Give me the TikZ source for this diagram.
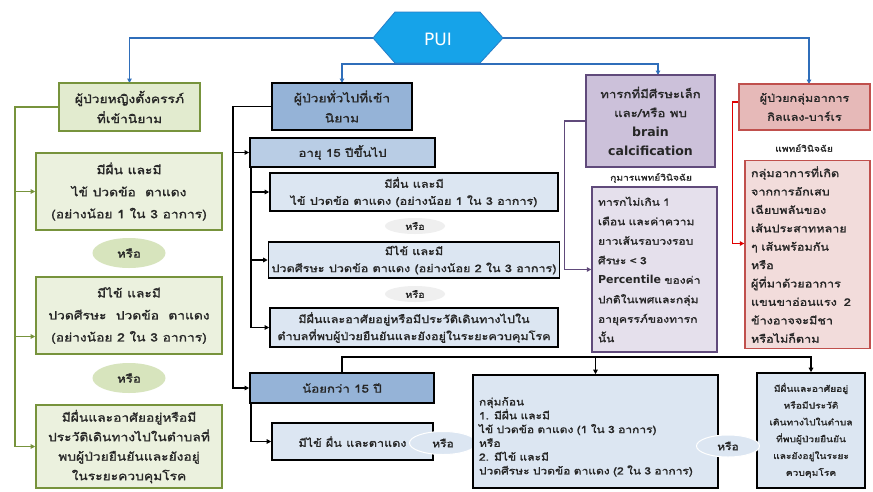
\documentclass[tikz,border=0pt]{standalone}
\usepackage{fontspec}
\setmainfont[Script=Thai,FakeStretch=1.2,AutoFakeBold=1.5]{Loma}
\newfontfamily\lat{DejaVu Sans}
\usetikzlibrary{arrows.meta,calc,shapes.geometric}
\definecolor{txt}{HTML}{262626}
\definecolor{puifill}{HTML}{16A3E9}
\definecolor{puiline}{HTML}{2F6EBA}
\definecolor{gbord}{HTML}{77933C}
\definecolor{gfillA}{HTML}{E2EBCF}
\definecolor{gfillB}{HTML}{EBF1DE}
\definecolor{gell}{HTML}{D7E4BD}
\definecolor{bfillA}{HTML}{95B3D7}
\definecolor{bfillB}{HTML}{B9CDE5}
\definecolor{bfillC}{HTML}{DCE6F2}
\definecolor{greyell}{HTML}{EFEFEF}
\definecolor{pbord}{HTML}{604A7B}
\definecolor{pfillA}{HTML}{CCC1DA}
\definecolor{pfillB}{HTML}{E5E0EC}
\definecolor{rbord}{HTML}{C0504D}
\definecolor{rfillA}{HTML}{E6B9B8}
\definecolor{rfillB}{HTML}{F2DCDB}
\definecolor{redline}{HTML}{E00000}
\tikzset{
  box/.style={draw, rectangle, align=center, inner sep=3pt, text=txt},
  gbox/.style={box, draw=gbord, line width=1.6pt, fill=gfillB, font=\bfseries\fontsize{11.5}{22}\selectfont},
  bbox/.style={box, draw=black, line width=1.8pt, font=\bfseries\fontsize{11.5}{20}\selectfont},
  sbox/.style={box, draw=black, line width=1.6pt, fill=bfillC, font=\bfseries\fontsize{10.5}{17}\selectfont},
  pbox/.style={box, draw=pbord, line width=1.4pt, font=\bfseries\fontsize{11}{19}\selectfont},
  rbox/.style={box, draw=rbord, line width=1.4pt, font=\bfseries\fontsize{10.5}{19}\selectfont},
  orell/.style={ellipse, inner sep=0pt, text=txt, font=\bfseries\fontsize{11}{12}\selectfont},
  lbl/.style={inner sep=1pt, text=txt, font=\bfseries\fontsize{8.5}{10}\selectfont},
  tip/.style={-{Triangle[length=4.5pt,width=4.5pt]}},
  bline/.style={draw=puiline, line width=1.4pt, tip},
  gline/.style={draw=gbord, line width=1.5pt},
  kline/.style={draw=black, line width=1.6pt},
  pline/.style={draw=pbord, line width=1.5pt},
  rline/.style={draw=redline, line width=1.5pt},
}
\begin{document}
\begin{tikzpicture}[x=1pt,y=-1pt]
\useasboundingbox (0,0) rectangle (873,491);
\fill[white] (0,0) rectangle (873,491);

% ---- PUI hexagon ----
\coordinate (puiL) at (373,38);
\coordinate (puiR) at (503,38);
\coordinate (puiS) at (438,63);
\draw[bline] (puiL) -| (129.5,83);
\draw[bline] (puiR) -| (809,84);
\draw[bline] (puiS) -- (438,64) -| (342,83);
\draw[bline] (puiS) -- (438,64) -| (658,75);
\filldraw[fill=puifill, draw=puiline!70!puifill, line width=0.8pt]
  (373,38) -- (395,12) -- (480,12) -- (503,38) -- (480,63) -- (395,63) -- cycle;
\node[text=white, font=\lat\fontsize{17}{19}\selectfont] (pui) at (438,39) {PUI};

% ---- green column ----
\node[gbox, fill=gfillA, minimum width=141, minimum height=48, font=\bfseries\fontsize{11.5}{20}\selectfont] (g1) at (129.5,107)
  {ผู้ป่วยหญิงตั้งครรภ์\\ที่เข้านิยาม};
\node[gbox, minimum width=186, minimum height=77] (g2) at (129,191.5)
  {มีผื่น และมี\\ไข้ ปวดข้อ\ \ ตาแดง\\(อย่างน้อย 1 ใน 3 อาการ)};
\node[orell, fill=gell, minimum width=73, minimum height=30] (ge1) at (129,253) {หรือ};
\node[gbox, minimum width=186, minimum height=77] (g3) at (129,315.5)
  {มีไข้ และมี\\ปวดศีรษะ\ \ ปวดข้อ\ \ ตาแดง\\(อย่างน้อย 2 ใน 3 อาการ)};
\node[orell, fill=gell, minimum width=73, minimum height=30] (ge2) at (129,378) {หรือ};
\node[gbox, minimum width=186, minimum height=83, font=\bfseries\fontsize{11.5}{19.5}\selectfont] (g4) at (129,446.5)
  {มีผื่นและอาศัยอยู่หรือมี\\ประวัติเดินทางไปในตำบลที่\\พบผู้ป่วยยืนยันและยังอยู่\\ในระยะควบคุมโรค};
\coordinate (gtop) at (15,107);
\coordinate (g3in) at ($(g3.west)+(0,21)$);
\draw[gline] (g1.west) -- (gtop) -- (gtop |- g4.west);
\draw[gline, tip] (gtop |- g2.west) -- (g2.west);
\draw[gline, tip] (gtop |- g3in) -- (g3in);
\draw[gline, tip] (gtop |- g4.west) -- (g4.west);

% ---- blue column ----
\node[bbox, fill=bfillA, minimum width=140, minimum height=47] (b1) at (342,106.5)
  {ผู้ป่วยทั่วไปที่เข้า\\นิยาม};
\node[bbox, fill=bfillB, minimum width=185, minimum height=29, font=\bfseries\fontsize{11}{13}\selectfont] (a15) at (342.5,152.5)
  {อายุ 15 ปีขึ้นไป};
\node[sbox, minimum width=288, minimum height=38] (sA) at (414,192)
  {มีผื่น และมี\\ไข้ ปวดข้อ ตาแดง (อย่างน้อย 1 ใน 3 อาการ)};
\node[orell, fill=greyell, minimum width=60, minimum height=16, font=\bfseries\fontsize{9}{10}\selectfont] (be1) at (415,226) {หรือ};
\node[sbox, minimum width=288, minimum height=36] (sB) at (414,260)
  {มีไข้ และมี\\ปวดศีรษะ ปวดข้อ ตาแดง (อย่างน้อย 2 ใน 3 อาการ)};
\node[orell, fill=greyell, minimum width=60, minimum height=16, font=\bfseries\fontsize{9}{10}\selectfont] (be2) at (415,294) {หรือ};
\node[sbox, minimum width=288, minimum height=39] (sC) at (414,327.5)
  {มีผื่นและอาศัยอยู่หรือมีประวัติเดินทางไปใน\\ตำบลที่พบผู้ป่วยยืนยันและยังอยู่ในระยะควบคุมโรค};
\node[bbox, fill=bfillA, minimum width=184, minimum height=30, font=\bfseries\fontsize{11}{13}\selectfont] (u15) at (342,388)
  {น้อยกว่า 15 ปี};
\node[sbox, minimum width=161, minimum height=37, font=\bfseries\fontsize{10.5}{15}\selectfont] (s5) at (352.5,441.5)
  {มีไข้ ผื่น และตาแดง};
\node[orell, fill=bfillC, draw=white, line width=1pt, minimum width=67, minimum height=23, font=\bfseries\fontsize{10}{11}\selectfont] (oe1) at (443,443) {หรือ};

\coordinate (kbus) at (233,106.5);
\draw[kline, tip] (b1.west) -- (kbus) |- (u15.west);
\draw[kline, tip] (kbus |- a15.west) -- (a15.west);
\coordinate (abus) at ($(a15.south west)+(2,0)$);
\draw[kline, tip] (abus) |- (sC.west);
\draw[kline, tip] (abus |- sA.west) -- (sA.west);
\draw[kline, tip] (abus |- sB.west) -- (sB.west);
\draw[kline, tip] ($(u15.south west)+(2,0)$) |- (s5.west);

% ---- bottom right boxes ----
\node[sbox, align=left, text width=233, inner sep=6pt, minimum height=113, font=\bfseries\fontsize{10}{13.8}\selectfont] (mb) at (595.5,431.5)
  {\rule{0pt}{19pt}กลุ่มก้อน\\1. มีผื่น และมี\\ไข้ ปวดข้อ ตาแดง (1 ใน 3 อาการ)\\หรือ\\2. มีไข้ และมี\\ปวดศีรษะ ปวดข้อ ตาแดง (2 ใน 3 อาการ)};
\node[sbox, text width=100, inner sep=4pt, minimum height=115, font=\bfseries\fontsize{8.5}{16.8}\selectfont] (rb) at (811,430.5)
  {มีผื่นและอาศัยอยู่\\หรือมีประวัติ\\เดินทางไปในตำบล\\ที่พบผู้ป่วยยืนยัน\\และยังอยู่ในระยะ\\ควบคุมโรค};
\node[orell, fill=bfillC, draw=white, line width=1pt, minimum width=63, minimum height=22, font=\bfseries\fontsize{10}{11}\selectfont] (oe2) at (728,446) {หรือ};
\coordinate (hbar) at (342,357);
\draw[kline, tip] (u15.north) -- (hbar) -| (rb.north);
\draw[kline, tip] (hbar -| mb.north) -- (mb.north);

% ---- purple column ----
\node[pbox, fill=pfillA, minimum width=129, minimum height=92] (p1) at (650.5,121)
  {ทารกที่มีศีรษะเล็ก\\และ/หรือ พบ\\{\lat\fontsize{12.5}{19}\selectfont brain}\\{\lat\fontsize{12.5}{19}\selectfont calcification}};
\node[lbl] (plbl) at (651,178) {กุมารแพทย์วินิจฉัย};
\node[pbox, fill=pfillB, align=left, text width=113, inner sep=6pt, minimum height=165, font=\bfseries\fontsize{10}{19.5}\selectfont] (p2) at (654.5,269.5)
  {ทารกไม่เกิน 1\\เดือน และค่าความ\\ยาวเส้นรอบวงรอบ\\ศีรษะ < 3\\{\lat\fontsize{11}{19.5}\selectfont Percentile} ของค่า\\ปกติในเพศและกลุ่ม\\อายุครรภ์ของทารก\\นั้น};
\draw[pline, tip] (p1.west) -- ++(-21,0) |- (p2.west);

% ---- red column ----
\node[rbox, fill=rfillA, minimum width=131, minimum height=46] (r1) at (804.5,107)
  {ผู้ป่วยกลุ่มอาการ\\กิลแลง-บาร์เร};
\node[lbl] (rlbl) at (804,148) {แพทย์วินิจฉัย};
\node[rbox, fill=rfillB, align=left, text width=113, inner sep=6pt, minimum height=185, font=\bfseries\fontsize{10.5}{18.4}\selectfont] (r2) at (807.5,254.5)
  {กลุ่มอาการที่เกิด\\จากการอักเสบ\\เฉียบพลันของ\\เส้นประสาทหลาย\\ๆ เส้นพร้อมกัน\\หรือ\\ผู้ที่มาด้วยอาการ\\แขนขาอ่อนแรง\ \ 2\\ข้างอาจจะมีชา\\หรือไม่ก็ตาม};
\coordinate (r2in) at ($(r2.west)+(0,-11)$);
\draw[rline, tip] ($(r1.west)+(0,-5)$) -- ++(-6,0) |- (r2in);
\end{tikzpicture}
\end{document}
